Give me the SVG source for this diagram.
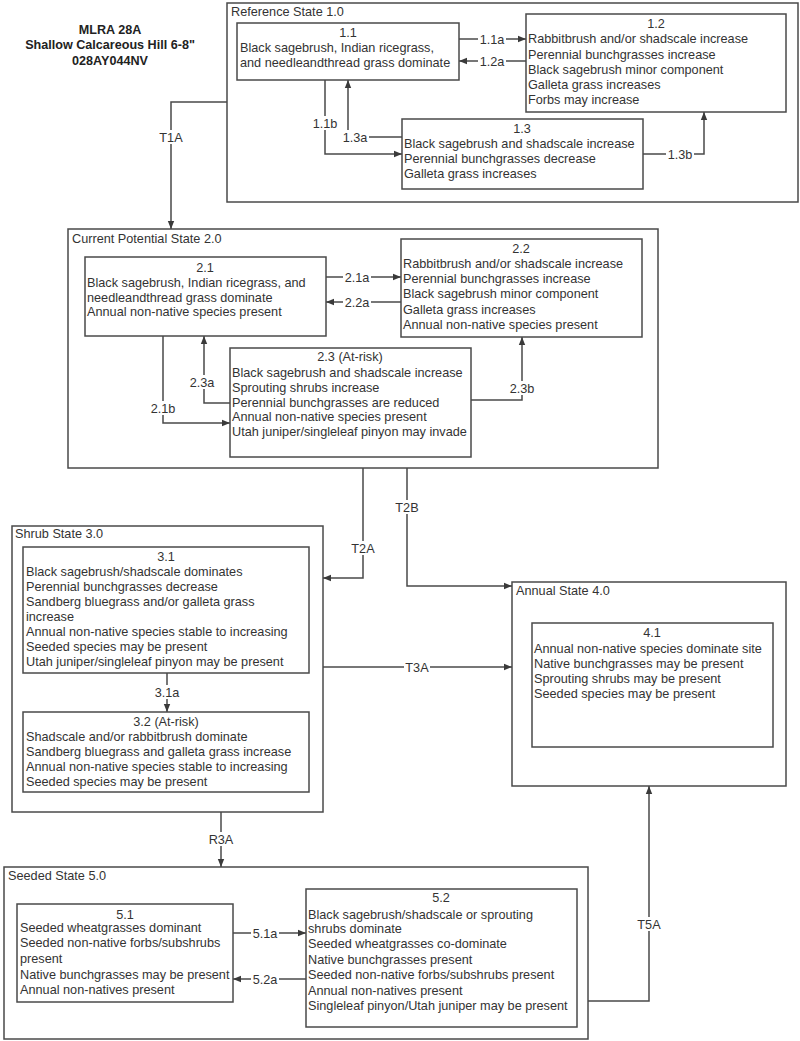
<svg xmlns="http://www.w3.org/2000/svg" width="800" height="1041" viewBox="0 0 800 1041">
<defs>
<marker id="arr" viewBox="0 0 8 8" refX="8" refY="4" markerWidth="8" markerHeight="8" markerUnits="userSpaceOnUse" orient="auto">
<path d="M0,0.8 L8,4 L0,7.2 Z" fill="#3a3a3a"/>
</marker>
<style>
rect{fill:#fff;stroke:#4a4a4a;stroke-width:1.5}
rect.bg{fill:#fff;stroke:none}
text{font-family:"Liberation Sans",Arial,sans-serif;font-size:12.7px;fill:#333}
.t{font-weight:bold;text-anchor:middle;fill:#222;font-size:12.6px}
.c{text-anchor:middle}
.lbl{text-anchor:middle}
#connectors path{fill:none;stroke:#4a4a4a;stroke-width:1.5}
.a{marker-end:url(#arr)}
</style>
</defs>
<rect x="0" y="0" width="800" height="1041" style="fill:#fff;stroke:none"/>
<g id="title">
<text class="t" x="110" y="34">MLRA 28A</text>
<text class="t" x="110" y="49">Shallow Calcareous Hill 6-8"</text>
<text class="t" x="110" y="65">028AY044NV</text>
</g>
<g id="state1">
<rect x="227" y="3" width="571" height="199"/>
<text x="231" y="16">Reference State 1.0</text>
</g>
<g id="state2">
<rect x="68" y="229" width="590" height="239"/>
<text x="72" y="243">Current Potential State 2.0</text>
</g>
<g id="state3">
<rect x="12" y="526" width="311" height="286"/>
<text x="15" y="538">Shrub State 3.0</text>
</g>
<g id="state4">
<rect x="512" y="582" width="274" height="204"/>
<text x="516" y="595">Annual State 4.0</text>
</g>
<g id="state5">
<rect x="4" y="867" width="584" height="172"/>
<text x="8" y="880">Seeded State 5.0</text>
</g>
<g id="connectors">
<path class="a" d="M459,39 H526"/>
<path class="a" d="M526,61 H459"/>
<path class="a" d="M325,80 V154 H402"/>
<path class="a" d="M402,137 H348 V80"/>
<path class="a" d="M643,154 H704 V112"/>
<path class="a" d="M227,102 H171 V229"/>
<path class="a" d="M326,277 H401"/>
<path class="a" d="M401,302 H326"/>
<path class="a" d="M230,403 H204 V336"/>
<path class="a" d="M163,336 V423 H230"/>
<path class="a" d="M471,400 H522 V337"/>
<path class="a" d="M363,468 V578 H323"/>
<path class="a" d="M407,468 V586 H512"/>
<path class="a" d="M167,673 V712"/>
<path class="a" d="M323,667 H512"/>
<path class="a" d="M221,812 V867"/>
<path class="a" d="M233,933 H306"/>
<path class="a" d="M306,979 H233"/>
<path class="a" d="M588,1001 H649 V786"/>
<rect class="bg" x="478" y="32" width="28" height="14"/>
<text class="lbl" x="492" y="43.5">1.1a</text>
<rect class="bg" x="478" y="54" width="28" height="14"/>
<text class="lbl" x="492" y="65.5">1.2a</text>
<rect class="bg" x="311" y="116" width="28" height="14"/>
<text class="lbl" x="325" y="127.5">1.1b</text>
<rect class="bg" x="341" y="130" width="28" height="14"/>
<text class="lbl" x="355" y="141.5">1.3a</text>
<rect class="bg" x="666" y="147" width="28" height="14"/>
<text class="lbl" x="680" y="158.5">1.3b</text>
<rect class="bg" x="158" y="130" width="26" height="14"/>
<text class="lbl" x="171" y="141.5">T1A</text>
<rect class="bg" x="343" y="270" width="28" height="14"/>
<text class="lbl" x="357" y="281.5">2.1a</text>
<rect class="bg" x="343" y="295" width="28" height="14"/>
<text class="lbl" x="357" y="306.5">2.2a</text>
<rect class="bg" x="188" y="375" width="28" height="14"/>
<text class="lbl" x="202" y="386.5">2.3a</text>
<rect class="bg" x="149" y="401" width="28" height="14"/>
<text class="lbl" x="163" y="412.5">2.1b</text>
<rect class="bg" x="508" y="381" width="28" height="14"/>
<text class="lbl" x="522" y="392.5">2.3b</text>
<rect class="bg" x="350" y="541" width="26" height="14"/>
<text class="lbl" x="363" y="552.5">T2A</text>
<rect class="bg" x="394" y="500" width="26" height="14"/>
<text class="lbl" x="407" y="511.5">T2B</text>
<rect class="bg" x="153" y="685" width="28" height="14"/>
<text class="lbl" x="167" y="696.5">3.1a</text>
<rect class="bg" x="404" y="660" width="26" height="14"/>
<text class="lbl" x="417" y="671.5">T3A</text>
<rect class="bg" x="207" y="832" width="28" height="14"/>
<text class="lbl" x="221" y="843.5">R3A</text>
<rect class="bg" x="251" y="926" width="28" height="14"/>
<text class="lbl" x="265" y="937.5">5.1a</text>
<rect class="bg" x="251" y="972" width="28" height="14"/>
<text class="lbl" x="265" y="983.5">5.2a</text>
<rect class="bg" x="636" y="917" width="26" height="14"/>
<text class="lbl" x="649" y="928.5">T5A</text>
</g>
<g id="n11">
<rect x="237" y="23" width="222" height="57"/>
<text class="c" x="348" y="37">1.1</text>
<text x="240" y="52">Black sagebrush, Indian ricegrass,</text>
<text x="240" y="67">and needleandthread grass dominate</text>
</g>
<g id="n12">
<rect x="526" y="14" width="260" height="98"/>
<text class="c" x="656" y="28">1.2</text>
<text x="528" y="43">Rabbitbrush and/or shadscale increase</text>
<text x="528" y="58.5">Perennial bunchgrasses increase</text>
<text x="528" y="74">Black sagebrush minor component</text>
<text x="528" y="89">Galleta grass increases</text>
<text x="528" y="104">Forbs may increase</text>
</g>
<g id="n13">
<rect x="402" y="119" width="241" height="70"/>
<text class="c" x="522" y="133">1.3</text>
<text x="404" y="148">Black sagebrush and shadscale increase</text>
<text x="404" y="163">Perennial bunchgrasses decrease</text>
<text x="404" y="178">Galleta grass increases</text>
</g>
<g id="n21">
<rect x="85" y="257" width="241" height="79"/>
<text class="c" x="205" y="272">2.1</text>
<text x="87" y="287">Black sagebrush, Indian ricegrass, and</text>
<text x="87" y="302">needleandthread grass dominate</text>
<text x="87" y="316">Annual non-native species present</text>
</g>
<g id="n22">
<rect x="401" y="239" width="241" height="98"/>
<text class="c" x="521" y="253">2.2</text>
<text x="403" y="267.5">Rabbitbrush and/or shadscale increase</text>
<text x="403" y="283">Perennial bunchgrasses increase</text>
<text x="403" y="298">Black sagebrush minor component</text>
<text x="403" y="313.5">Galleta grass increases</text>
<text x="403" y="329">Annual non-native species present</text>
</g>
<g id="n23">
<rect x="230" y="348" width="241" height="109"/>
<text class="c" x="350" y="361">2.3 (At-risk)</text>
<text x="232" y="377">Black sagebrush and shadscale increase</text>
<text x="232" y="392">Sprouting shrubs increase</text>
<text x="232" y="407">Perennial bunchgrasses are reduced</text>
<text x="232" y="421">Annual non-native species present</text>
<text x="232" y="436">Utah juniper/singleleaf pinyon may invade</text>
</g>
<g id="n31">
<rect x="23" y="547" width="286" height="126"/>
<text class="c" x="166" y="561">3.1</text>
<text x="26" y="576">Black sagebrush/shadscale dominates</text>
<text x="26" y="591">Perennial bunchgrasses decrease</text>
<text x="26" y="606">Sandberg bluegrass and/or galleta grass</text>
<text x="26" y="621">increase</text>
<text x="26" y="636">Annual non-native species stable to increasing</text>
<text x="26" y="651">Seeded species may be present</text>
<text x="26" y="666">Utah juniper/singleleaf pinyon may be present</text>
</g>
<g id="n32">
<rect x="23" y="712" width="286" height="80"/>
<text class="c" x="166" y="726">3.2 (At-risk)</text>
<text x="26" y="741">Shadscale and/or rabbitbrush dominate</text>
<text x="26" y="756">Sandberg bluegrass and galleta grass increase</text>
<text x="26" y="771">Annual non-native species stable to increasing</text>
<text x="26" y="786">Seeded species may be present</text>
</g>
<g id="n41">
<rect x="532" y="623" width="241" height="124"/>
<text class="c" x="652" y="637">4.1</text>
<text x="534" y="653">Annual non-native species dominate site</text>
<text x="534" y="668">Native bunchgrasses may be present</text>
<text x="534" y="683">Sprouting shrubs may be present</text>
<text x="534" y="698">Seeded species may be present</text>
</g>
<g id="n51">
<rect x="17" y="904" width="216" height="98"/>
<text class="c" x="125" y="919">5.1</text>
<text x="20" y="932">Seeded wheatgrasses dominant</text>
<text x="20" y="947">Seeded non-native forbs/subshrubs</text>
<text x="20" y="963">present</text>
<text x="20" y="979">Native bunchgrasses may be present</text>
<text x="20" y="994">Annual non-natives present</text>
</g>
<g id="n52">
<rect x="306" y="889" width="271" height="138"/>
<text class="c" x="441" y="902">5.2</text>
<text x="308" y="919">Black sagebrush/shadscale or sprouting</text>
<text x="308" y="933">shrubs dominate</text>
<text x="308" y="948">Seeded wheatgrasses co-dominate</text>
<text x="308" y="964">Native bunchgrasses present</text>
<text x="308" y="979">Seeded non-native forbs/subshrubs present</text>
<text x="308" y="995">Annual non-natives present</text>
<text x="308" y="1010">Singleleaf pinyon/Utah juniper may be present</text>
</g>
</svg>
